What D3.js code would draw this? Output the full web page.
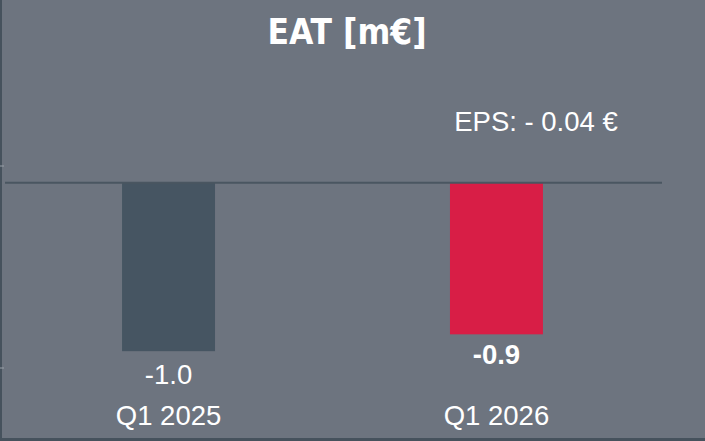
<!DOCTYPE html>
<html lang="de">
<head>
    <meta charset="UTF-8">
    <title>EAT [m€]</title>
    <script src="https://d3js.org/d3.v7.min.js"></script>
    <style>
        html, body { margin: 0; padding: 0; background: #6d747f; }
        svg { display: block; }
        .titel {
            font-family: "DejaVu Sans Condensed", "DejaVu Sans", sans-serif;
            font-stretch: condensed;
            font-size: 35px;
            font-weight: bold;
            fill: #ffffff;
        }
        .texto {
            font-family: "Liberation Sans", Arial, sans-serif;
            font-size: 27.5px;
            fill: #ffffff;
        }
    </style>
</head>
<body>
<svg width="705" height="441"></svg>

<script>
    // datos
    const categorias = ["Q1 2025", "Q1 2026"]
    const valores = [-1.0, -0.9]
    const etiquetas = ["-1.0", "-0.9"]
    const colores = ["#465562", "#d81e46"]
    const negrita = [false, true]
    const eps = "EPS: - 0.04 €"

    const svg = d3.select("svg")

    // fondo y bordes
    svg.append("rect")
        .attr("width", 705).attr("height", 441)
        .attr("fill", "#6d747f")
    svg.append("rect")
        .attr("x", 0).attr("y", 0).attr("width", 2).attr("height", 441)
        .attr("fill", "#46525d")
    svg.append("rect")
        .attr("x", 0).attr("y", 438).attr("width", 705).attr("height", 3)
        .attr("fill", "#46525d")

    const x = d3.scaleBand()
        .domain(categorias)
        .range([5, 660])
        .paddingInner(0.7165)
        .paddingOuter(0.357)

    const y = d3.scaleLinear()
        .domain([-1.1, 0.1])
        .range([368, 166])

    // marcas del eje (solo extremos)
    svg.selectAll("line.tick")
        .data(y.domain())
        .enter()
        .append("line")
        .attr("class", "tick")
        .attr("x1", 0).attr("x2", 4)
        .attr("y1", d => y(d)).attr("y2", d => y(d))
        .attr("stroke", "#9aa1aa")
        .attr("stroke-width", 1)

    // titulo
    svg.append("text")
        .attr("class", "titel")
        .attr("x", 347)
        .attr("y", 44)
        .attr("text-anchor", "middle")
        .text("EAT [m€]")

    // barras
    svg.selectAll("rect.bar")
        .data(valores)
        .enter()
        .append("rect")
        .attr("class", "bar")
        .attr("x", (d, i) => x(categorias[i]))
        .attr("width", x.bandwidth())
        .attr("y", d => y(Math.max(0, d)))
        .attr("height", d => Math.abs(y(d) - y(0)))
        .attr("fill", (d, i) => colores[i])

    // linea base
    svg.append("line")
        .attr("x1", 5).attr("x2", 662)
        .attr("y1", y(0)).attr("y2", y(0))
        .attr("stroke", "#4a5661")
        .attr("stroke-width", 2)

    // valores
    svg.selectAll("text.valor")
        .data(valores)
        .enter()
        .append("text")
        .attr("class", "texto valor")
        .attr("x", (d, i) => x(categorias[i]) + x.bandwidth() / 2)
        .attr("y", (d, i) => y(d) + (negrita[i] ? 30 : 33))
        .attr("text-anchor", "middle")
        .style("font-weight", (d, i) => negrita[i] ? "bold" : "normal")
        .text((d, i) => etiquetas[i])

    // categorias
    svg.selectAll("text.cat")
        .data(categorias)
        .enter()
        .append("text")
        .attr("class", "texto cat")
        .attr("x", d => x(d) + x.bandwidth() / 2)
        .attr("y", 425)
        .attr("text-anchor", "middle")
        .text(d => d)

    // EPS
    svg.append("text")
        .attr("class", "texto")
        .attr("x", 536)
        .attr("y", 131)
        .attr("text-anchor", "middle")
        .text(eps)
</script>
</body>
</html>
